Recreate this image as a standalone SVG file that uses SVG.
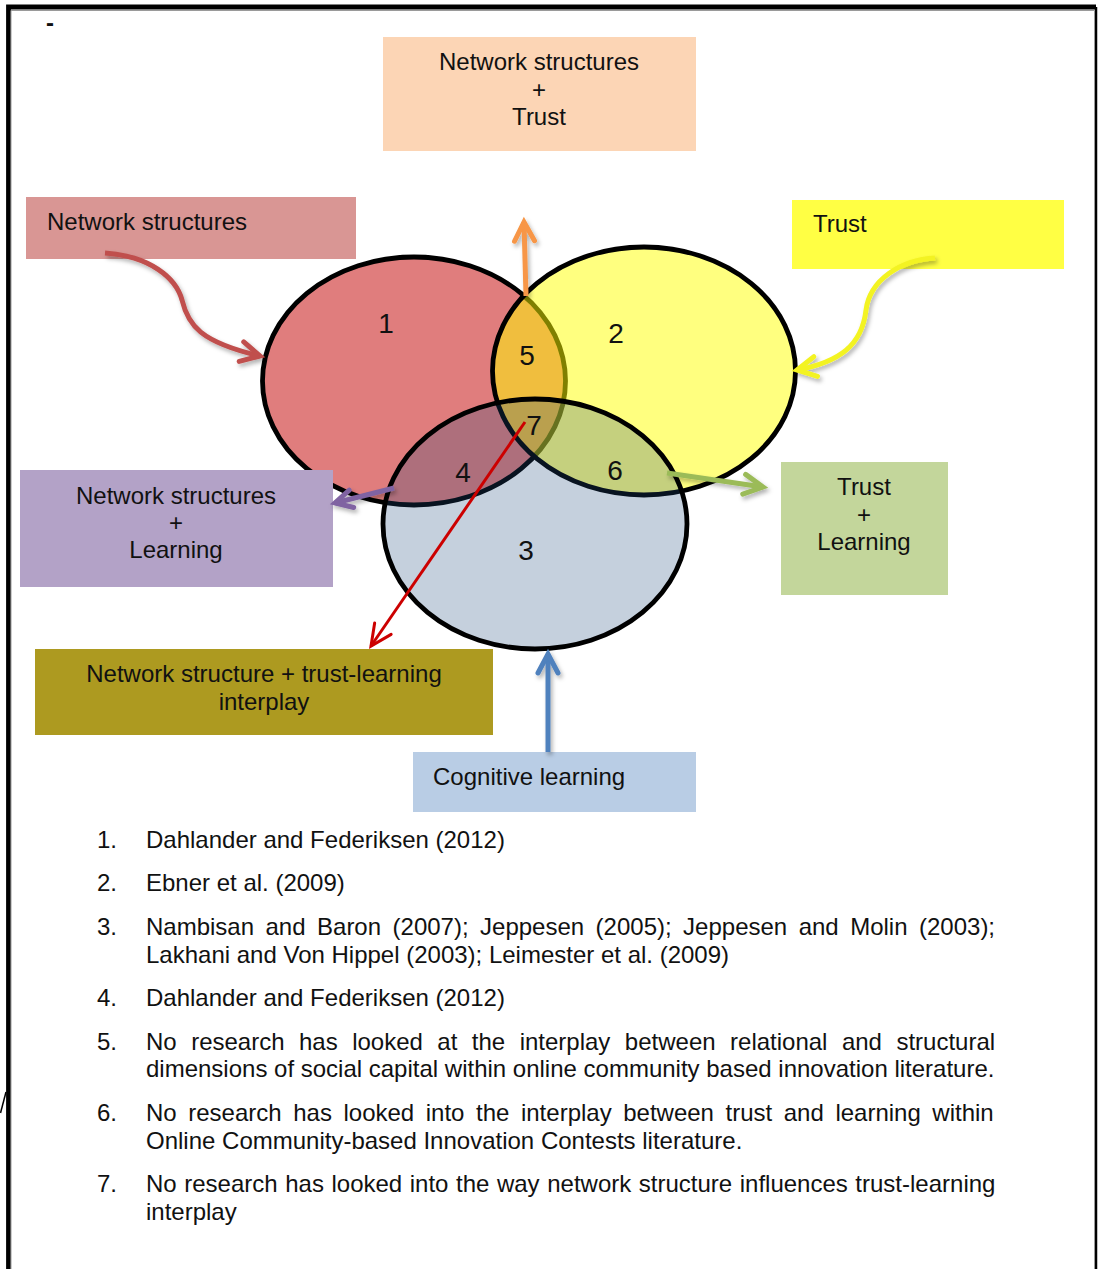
<svg xmlns="http://www.w3.org/2000/svg" width="1098" height="1269" viewBox="0 0 1098 1269">
  <style>
    text { font-family: "Liberation Sans", Arial, sans-serif; fill: #111; }
    .lbl { font-size: 24px; }
    .mid { text-anchor: middle; }
    .num { font-size: 28px; text-anchor: middle; }
    .ell { stroke: #000; stroke-width: 4.8; }
    .arw { fill: none; stroke-width: 5; stroke-linecap: butt; }
    .head { fill: none; stroke-width: 5; stroke-linecap: round; stroke-linejoin: miter; }
  </style>
  <defs>
    <filter id="shadow" filterUnits="userSpaceOnUse" x="0" y="0" width="1098" height="1269">
      <feDropShadow dx="2" dy="3" stdDeviation="2" flood-color="#000" flood-opacity="0.3"/>
    </filter>
    <marker id="hOrange" markerUnits="userSpaceOnUse" orient="auto" overflow="visible" viewBox="-20 -20 40 40" markerWidth="40" markerHeight="40" refX="0" refY="0">
      <path class="head" stroke="#F79646" d="M-19,-10 L0,0 L-19,10"/>
    </marker>
    <marker id="hRed" markerUnits="userSpaceOnUse" orient="auto" overflow="visible" viewBox="-20 -20 40 40" markerWidth="40" markerHeight="40" refX="0" refY="0">
      <path class="head" stroke="#C0504D" d="M-19,-10 L0,0 L-19,10"/>
    </marker>
    <marker id="hYellow" markerUnits="userSpaceOnUse" orient="auto" overflow="visible" viewBox="-20 -20 40 40" markerWidth="40" markerHeight="40" refX="0" refY="0">
      <path class="head" stroke="#F3F322" d="M-19,-10 L0,0 L-19,10"/>
    </marker>
    <marker id="hGreen" markerUnits="userSpaceOnUse" orient="auto" overflow="visible" viewBox="-20 -20 40 40" markerWidth="40" markerHeight="40" refX="0" refY="0">
      <path class="head" stroke="#9BBB59" d="M-19,-10 L0,0 L-19,10"/>
    </marker>
    <marker id="hPurple" markerUnits="userSpaceOnUse" orient="auto" overflow="visible" viewBox="-20 -20 40 40" markerWidth="40" markerHeight="40" refX="0" refY="0">
      <path class="head" stroke="#8064A2" d="M-17,-9 L0,0 L-17,9"/>
    </marker>
    <marker id="hBlue" markerUnits="userSpaceOnUse" orient="auto" overflow="visible" viewBox="-20 -20 40 40" markerWidth="40" markerHeight="40" refX="0" refY="0">
      <path class="head" stroke="#4F81BD" d="M-19,-10 L0,0 L-19,10"/>
    </marker>
    <marker id="hDark" markerUnits="userSpaceOnUse" orient="auto" overflow="visible" viewBox="-25 -25 50 50" markerWidth="50" markerHeight="50" refX="0" refY="0">
      <path fill="none" stroke="#CC0000" stroke-width="3" stroke-linecap="round" d="M-21,-10 L0,0 L-21,10"/>
    </marker>
  </defs>

  <rect width="1098" height="1269" fill="#fff"/>

  <!-- page frame -->
  <g id="frame">
    <path d="M8.5,1269 V7 H1096" fill="none" stroke="#000" stroke-width="4.8"/>
    <path d="M1096,7 V1269" fill="none" stroke="#000" stroke-width="2.5"/>
    <path d="M11,10.5 H1094.5 V1269 M11,10.5 V1269" fill="none" stroke="#9a9a9a" stroke-width="1"/>
    <path d="M6,1092 L0.5,1113" fill="none" stroke="#000" stroke-width="1.5"/>
    <text class="lbl" x="46" y="31" font-weight="bold">-</text>
  </g>

  <!-- three overlapping sets -->
  <g id="venn">
    <ellipse id="set-network" class="ell" cx="414" cy="381" rx="151.5" ry="124" fill="#E07D7D"/>
    <ellipse id="set-trust" class="ell" cx="644" cy="371" rx="151.5" ry="124" fill="#FFFF00" fill-opacity="0.5"/>
    <ellipse id="set-learning" class="ell" cx="535" cy="524" rx="152" ry="125" fill="#1F497D" fill-opacity="0.26"/>
    <text class="num" x="386" y="333">1</text>
    <text class="num" x="616" y="343">2</text>
    <text class="num" x="526" y="560">3</text>
    <text class="num" x="463" y="482">4</text>
    <text class="num" x="527" y="365">5</text>
    <text class="num" x="615" y="480">6</text>
    <text class="num" x="534" y="435">7</text>
  </g>

  <!-- label boxes -->
  <g id="box-ns-trust">
    <rect x="383" y="37" width="313" height="114" fill="#FCD5B5"/>
    <text class="lbl mid" x="539" y="70">Network structures</text>
    <text class="lbl mid" x="539" y="98">+</text>
    <text class="lbl mid" x="539" y="125">Trust</text>
  </g>
  <g id="box-ns">
    <rect x="26" y="197" width="330" height="62" fill="#D99694"/>
    <text class="lbl" x="47" y="230">Network structures</text>
  </g>
  <g id="box-trust">
    <rect x="792" y="200" width="272" height="69" fill="#FFFF44"/>
    <text class="lbl" x="813" y="232">Trust</text>
  </g>
  <g id="box-ns-learning">
    <rect x="20" y="470" width="313" height="117" fill="#B3A2C7"/>
    <text class="lbl mid" x="176" y="504">Network structures</text>
    <text class="lbl mid" x="176" y="531">+</text>
    <text class="lbl mid" x="176" y="558">Learning</text>
  </g>
  <g id="box-trust-learning">
    <rect x="781" y="462" width="167" height="133" fill="#C3D69B"/>
    <text class="lbl mid" x="864" y="495">Trust</text>
    <text class="lbl mid" x="864" y="523">+</text>
    <text class="lbl mid" x="864" y="550">Learning</text>
  </g>
  <g id="box-interplay">
    <rect x="35" y="649" width="458" height="86" fill="#AD9A20"/>
    <text class="lbl mid" x="264" y="682">Network structure + trust-learning</text>
    <text class="lbl mid" x="264" y="710">interplay</text>
  </g>
  <g id="box-cognitive">
    <rect x="413" y="752" width="283" height="60" fill="#B9CDE5"/>
    <text class="lbl" x="433" y="785">Cognitive learning</text>
  </g>

  <!-- connectors -->
  <g id="connectors">
    <path class="arw" stroke="#F79646" filter="url(#shadow)" marker-end="url(#hOrange)" d="M526,296 L524,222"/>
    <path class="arw" stroke="#C0504D" filter="url(#shadow)" marker-end="url(#hRed)" d="M105,253 C150,256 176,278 182,300 C188,325 200,342 260,356"/>
    <path class="arw" stroke="#F3F322" filter="url(#shadow)" marker-end="url(#hYellow)" d="M935,258 C900,260 870,280 866,310 C862,345 840,362 797,370"/>
    <path class="arw" stroke="#9BBB59" filter="url(#shadow)" marker-end="url(#hGreen)" d="M667,473 L763,487"/>
    <path class="arw" stroke="#8064A2" filter="url(#shadow)" marker-end="url(#hPurple)" d="M394,488 L335,503"/>
    <path class="arw" stroke="#4F81BD" filter="url(#shadow)" marker-end="url(#hBlue)" d="M548,752 L548,654"/>
    <path fill="none" stroke="#CC0000" stroke-width="3" marker-end="url(#hDark)" d="M525,422 L371,646"/>
  </g>

  <!-- numbered references -->
  <g id="references" class="lbl">
    <text class="lbl" x="97" y="848">1.</text>
    <text class="lbl" x="146" y="848">Dahlander and Federiksen (2012)</text>
    <text class="lbl" x="97" y="891">2.</text>
    <text class="lbl" x="146" y="891">Ebner et al. (2009)</text>
    <text class="lbl" x="97" y="935">3.</text>
    <text class="lbl" x="146" y="935" style="word-spacing:4.8px">Nambisan and Baron (2007); Jeppesen (2005); Jeppesen and Molin (2003);</text>
    <text class="lbl" x="146" y="963">Lakhani and Von Hippel (2003); Leimester et al. (2009)</text>
    <text class="lbl" x="97" y="1006">4.</text>
    <text class="lbl" x="146" y="1006">Dahlander and Federiksen (2012)</text>
    <text class="lbl" x="97" y="1050">5.</text>
    <text class="lbl" x="146" y="1050" style="word-spacing:7.8px">No research has looked at the interplay between relational and structural</text>
    <text class="lbl" x="146" y="1077">dimensions of social capital within online community based innovation literature.</text>
    <text class="lbl" x="97" y="1121">6.</text>
    <text class="lbl" x="146" y="1121" style="word-spacing:4.9px">No research has looked into the interplay between trust and learning within</text>
    <text class="lbl" x="146" y="1149">Online Community-based Innovation Contests literature.</text>
    <text class="lbl" x="97" y="1192">7.</text>
    <text class="lbl" x="146" y="1192" style="word-spacing:0.9px">No research has looked into the way network structure influences trust-learning</text>
    <text class="lbl" x="146" y="1220">interplay</text>
  </g>
</svg>
